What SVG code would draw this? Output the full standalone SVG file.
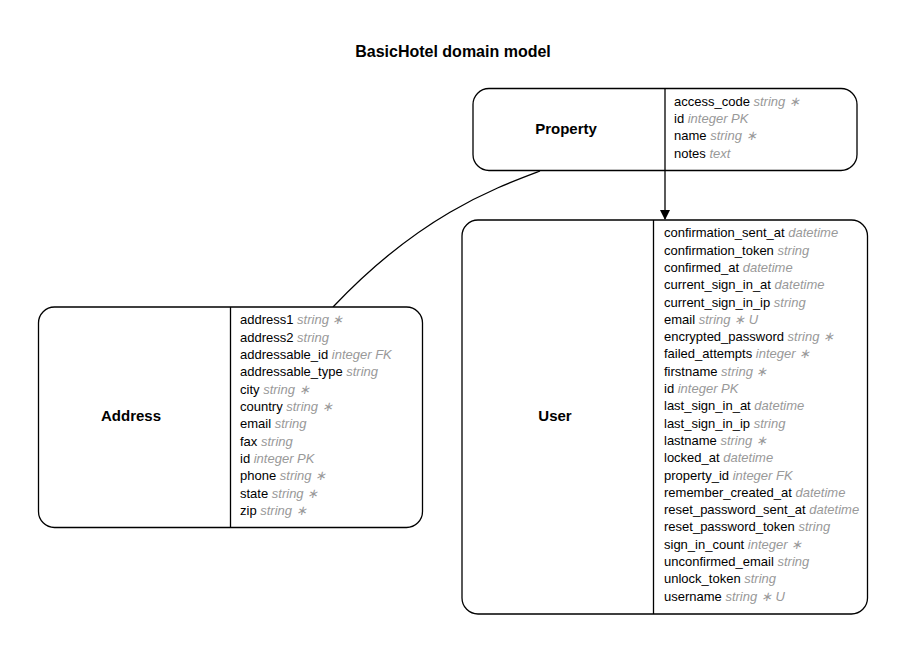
<svg xmlns="http://www.w3.org/2000/svg" width="907" height="654" viewBox="0 0 907 654">
<style>
.box{fill:#fff;stroke:#000;stroke-width:1.3}
.div{stroke:#000;stroke-width:1.3}
.title{font-family:"Liberation Sans",Arial,sans-serif;font-weight:bold;font-size:16px;fill:#000;text-anchor:middle}
.name{font-family:"Liberation Sans",Arial,sans-serif;font-weight:bold;font-size:15px;fill:#000;text-anchor:middle}
.attr{font-family:"Liberation Sans",Arial,sans-serif;font-size:13px;fill:#000}
.t{font-style:italic;fill:#999}
.edge{fill:none;stroke:#000;stroke-width:1.3}
</style>
<defs>
<marker id="arr" markerWidth="10" markerHeight="12" refX="9" refY="5" orient="auto" markerUnits="userSpaceOnUse">
<path d="M0,0 L10,5 L0,10 Z" fill="#000"/>
</marker>
</defs>
<rect width="907" height="654" fill="#fff"/>
<text class="title" x="453" y="57">BasicHotel domain model</text>
<g id="connectors">
<path class="edge" d="M540,171 C495,188 420,215 333,307"/>
<path class="edge" d="M665,171 L665,219" marker-end="url(#arr)"/>
</g>
<g id="Property">
<rect class="box" x="473" y="88.5" width="384" height="82" rx="16"/>
<line class="div" x1="665" y1="88.5" x2="665" y2="170.5"/>
<text class="name" x="566" y="134">Property</text>
<text class="attr" x="674" y="105.7">access_code <tspan class="t">string ∗</tspan></text>
<text class="attr" x="674" y="123">id <tspan class="t">integer PK</tspan></text>
<text class="attr" x="674" y="140.3">name <tspan class="t">string ∗</tspan></text>
<text class="attr" x="674" y="157.6">notes <tspan class="t">text</tspan></text>
</g>
<g id="Address">
<rect class="box" x="38.5" y="307" width="384" height="220.5" rx="16"/>
<line class="div" x1="230.5" y1="307" x2="230.5" y2="527.5"/>
<text class="name" x="131" y="421">Address</text>
<text class="attr" x="240" y="324.3">address1 <tspan class="t">string ∗</tspan></text>
<text class="attr" x="240" y="341.6">address2 <tspan class="t">string</tspan></text>
<text class="attr" x="240" y="359">addressable_id <tspan class="t">integer FK</tspan></text>
<text class="attr" x="240" y="376.3">addressable_type <tspan class="t">string</tspan></text>
<text class="attr" x="240" y="393.7">city <tspan class="t">string ∗</tspan></text>
<text class="attr" x="240" y="411">country <tspan class="t">string ∗</tspan></text>
<text class="attr" x="240" y="428.3">email <tspan class="t">string</tspan></text>
<text class="attr" x="240" y="445.7">fax <tspan class="t">string</tspan></text>
<text class="attr" x="240" y="463">id <tspan class="t">integer PK</tspan></text>
<text class="attr" x="240" y="480.4">phone <tspan class="t">string ∗</tspan></text>
<text class="attr" x="240" y="497.7">state <tspan class="t">string ∗</tspan></text>
<text class="attr" x="240" y="515">zip <tspan class="t">string ∗</tspan></text>
</g>
<g id="User">
<rect class="box" x="462" y="220" width="405.5" height="394" rx="16"/>
<line class="div" x1="653.5" y1="220" x2="653.5" y2="614"/>
<text class="name" x="555" y="421">User</text>
<text class="attr" x="664" y="237.3">confirmation_sent_at <tspan class="t">datetime</tspan></text>
<text class="attr" x="664" y="254.6">confirmation_token <tspan class="t">string</tspan></text>
<text class="attr" x="664" y="271.9">confirmed_at <tspan class="t">datetime</tspan></text>
<text class="attr" x="664" y="289.2">current_sign_in_at <tspan class="t">datetime</tspan></text>
<text class="attr" x="664" y="306.5">current_sign_in_ip <tspan class="t">string</tspan></text>
<text class="attr" x="664" y="323.8">email <tspan class="t">string ∗ U</tspan></text>
<text class="attr" x="664" y="341.1">encrypted_password <tspan class="t">string ∗</tspan></text>
<text class="attr" x="664" y="358.4">failed_attempts <tspan class="t">integer ∗</tspan></text>
<text class="attr" x="664" y="375.7">firstname <tspan class="t">string ∗</tspan></text>
<text class="attr" x="664" y="393">id <tspan class="t">integer PK</tspan></text>
<text class="attr" x="664" y="410.3">last_sign_in_at <tspan class="t">datetime</tspan></text>
<text class="attr" x="664" y="427.6">last_sign_in_ip <tspan class="t">string</tspan></text>
<text class="attr" x="664" y="444.9">lastname <tspan class="t">string ∗</tspan></text>
<text class="attr" x="664" y="462.2">locked_at <tspan class="t">datetime</tspan></text>
<text class="attr" x="664" y="479.5">property_id <tspan class="t">integer FK</tspan></text>
<text class="attr" x="664" y="496.8">remember_created_at <tspan class="t">datetime</tspan></text>
<text class="attr" x="664" y="514.1">reset_password_sent_at <tspan class="t">datetime</tspan></text>
<text class="attr" x="664" y="531.4">reset_password_token <tspan class="t">string</tspan></text>
<text class="attr" x="664" y="548.7">sign_in_count <tspan class="t">integer ∗</tspan></text>
<text class="attr" x="664" y="566">unconfirmed_email <tspan class="t">string</tspan></text>
<text class="attr" x="664" y="583.3">unlock_token <tspan class="t">string</tspan></text>
<text class="attr" x="664" y="600.6">username <tspan class="t">string ∗ U</tspan></text>
</g>
</svg>
